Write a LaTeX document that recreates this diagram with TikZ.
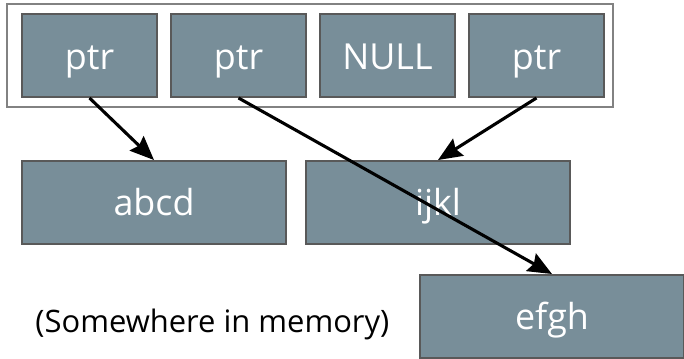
\documentclass[tikz,border=0pt]{standalone}
\usepackage{fontspec}
\setmainfont{Open Sans}
\usepackage{xcolor}
\usepackage{tikz}
\usetikzlibrary{arrows.meta,calc}
\definecolor{slate1} {RGB} {120, 142, 153}
\definecolor{slate6} {RGB} {89, 89, 89}
\definecolor{frame1} {RGB} {130, 130, 130}
\tikzstyle{mem}=[
  >={Stealth[length=0.6cm,width=0.5cm,inset=0.08cm]}, font=\fontsize{25.5}{30}\selectfont
]
\tikzstyle{memnode}=[
  rectangle, line width=1.4pt, draw=slate6, fill=slate1, text=white, inner sep=0pt,
  text depth=0.2cm
]
\tikzstyle{memcell}=[
  memnode, minimum width=3.375cm, minimum height=2.075cm, text height=0.92cm
]
\tikzstyle{memblock}=[
  memnode, minimum width=6.6cm, minimum height=2.075cm, text height=0.86cm
]
\tikzstyle{memedge}=[
  ->, line width=2.2pt, draw=black
]
\tikzstyle{memframe}=[
  line width=1.4pt, draw=frame1
]

\begin{document}
\begin{tikzpicture}[mem]
\useasboundingbox (0,0) rectangle (17.1,-8.95);

\node (p1) [memcell] at (2.2375, -1.3875) {ptr};
\node (p2) [memcell] at ($(p1) + (3.725, 0.0)$) {ptr};
\node (p3) [memcell] at ($(p2) + (3.725, 0.0)$) {NULL};
\node (p4) [memcell] at ($(p3) + (3.725, 0.0)$) {ptr};

\draw [memframe] ($(p1.north west) + (-0.35, 0.225)$) rectangle ($(p4.south east) + (0.2, -0.225)$);

\node (abcd) [memblock] at (3.85, -5.0625) {abcd};
\node (ijkl) [memblock] at ($(abcd) + (7.1, 0.0)$) {ijkl};
\node (efgh) [memblock] at ($(ijkl) + (2.85, -2.85)$) {efgh};

\node (where) [font=\fontsize{22}{26}\selectfont] at (5.31, -8.1) {(Somewhere in memory)};

\draw [memedge] (p1.south) -- (abcd.north);
\draw [memedge] (p2.south) -- (efgh.north);
\draw [memedge] (p4.south) -- (ijkl.north);
\end{tikzpicture}
\end{document}
